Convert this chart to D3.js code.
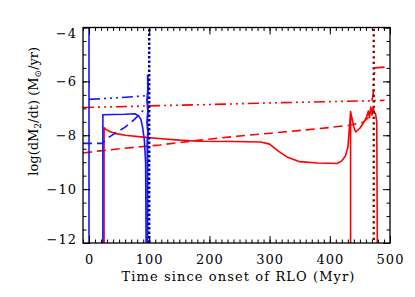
<!DOCTYPE html>
<html>
<head>
<meta charset="utf-8">
<script src="https://cdn.jsdelivr.net/npm/d3@7"></script>
<style>
  body { margin: 0; background: #fff; }
  text { font-family: "DejaVu Serif", serif; }
</style>
</head>
<body>
<div id="chart"></div>
<script>
// tick labels
const xTicks = [0, 100, 200, 300, 400, 500];
const yTicks = [-12, -10, -8, -6, -4];

// series: [time (Myr), log(dM2/dt)]
const blueSolidA = [[0, -12.5], [0, -3.5]];
const blueSolidB = [[23, -12.5], [23, -7.24], [40, -7.23], [60, -7.22], [76, -7.2], [82, -7.27], [86, -7.4], [89, -7.7], [92, -8.2], [94, -9], [95, -12.5]];
const blueSolidC = [[97, -12.5], [97, -8.2], [98, -7.9], [96.5, -7.5], [98, -7.1], [96.5, -6.7], [98, -6.3], [97.5, -5.75]];
const blueDashed = [[-10, -8.3], [22, -8.3], [30, -8.12], [45, -7.9], [60, -7.7], [75, -7.42], [90, -7.08]];
const blueDashDot = [[0, -6.67], [30, -6.63], [60, -6.59], [96, -6.53]];
const blueDotted = [[100, -12.5], [100, -3.5]];

const redSolid = [[25, -12.5], [25, -7.72], [28, -7.78], [35, -7.87], [45, -7.94], [60, -8.0], [90, -8.07], [120, -8.13],
  [150, -8.18], [185, -8.22], [240, -8.23], [285, -8.25], [300, -8.33], [315, -8.6], [330, -8.82], [350, -8.98],
  [380, -9.03], [412, -9.05], [420, -8.95], [426, -8.77], [430, -8.45], [433, -7.6], [434.5, -7.12], [434.5, -12.5],
  [434.5, -7.12], [440, -7.7], [443, -7.88], [450, -7.74], [457, -7.5], [461, -7.33], [464, -7.1], [466, -7.35],
  [468, -6.95], [470, -7.25], [472, -6.98], [474, -7.15], [476, -7.2], [478, -7.5], [479, -12.5]];
const redDashed = [[-10, -8.66], [18, -8.58], [60, -8.48], [118, -8.36], [184, -8.18], [250, -8.03], [322, -7.88],
  [380, -7.76], [433, -7.63], [455, -7.52], [464, -7.35], [470, -7.0]];
const redDashDot = [[-10, -6.97], [100, -6.91], [200, -6.86], [300, -6.8], [400, -6.75], [470, -6.72], [491, -6.7]];
const redDashDotJump = [[470, -6.72], [472, -6.5], [473, -6.0], [475, -5.5], [491, -5.47]];
const maroonDotted = [[473, -12.5], [473, -3.5]];

const margin = { top: 27.5, right: 25, bottom: 54, left: 83 };
const width = 415 - margin.left - margin.right;
const height = 297 - margin.top - margin.bottom;

const x = d3.scaleLinear().domain([-10, 500]).range([0, width]);
const y = d3.scaleLinear().domain([-12, -4]).range([height, 0]);

const svg = d3.select('#chart').append('svg')
  .attr('width', 415)
  .attr('height', 297)
  .append('g')
  .attr('transform', `translate(${margin.left}, ${margin.top})`);

svg.append('clipPath').attr('id', 'clip')
  .append('rect').attr('width', width).attr('height', height);

const line = d3.line()
  .x((d) => x(d[0]))
  .y((d) => y(d[1]));

const plot = svg.append('g').attr('clip-path', 'url(#clip)');

// draw a series
function draw(data, color, dash, w) {
  plot.append('path')
    .datum(data)
    .attr('d', line)
    .attr('fill', 'none')
    .attr('stroke', color)
    .attr('stroke-width', w || 1.6)
    .attr('stroke-dasharray', dash || null)
    .attr('stroke-linejoin', 'round');
}

const dashDot = '11,4,2,4,2,4,2,4';
draw(redDashed, '#ff0000', '9,5');
draw(redDashDot, '#ff0000', dashDot);
draw(redDashDotJump, '#ff0000', dashDot);
draw(redSolid, '#ff0000');
draw(maroonDotted, '#8b0000', '2.2,3.3', 2.4);
draw(blueDashed, '#1414ff', '9,5');
draw(blueDashDot, '#1414ff', dashDot);
draw(blueSolidA, '#1414ff');
draw(blueSolidB, '#1414ff');
draw(blueSolidC, '#1414ff', null, 2);
draw(blueDotted, '#00009a', '2.5,2', 2.4);

// axes, ticks pointing inward on all four sides
const xMinor = d3.range(-10, 501, 10);
const yMinor = d3.range(-12, -3.9, 0.5);

function clean(g) {
  g.select('.domain').remove();
  g.selectAll('line').attr('stroke', '#000').attr('stroke-width', 1);
}

svg.append('g')
  .attr('transform', `translate(0, ${height})`)
  .call(d3.axisBottom(x).tickValues(xMinor).tickSize(-3.5).tickFormat(''))
  .call(clean);
svg.append('g')
  .attr('transform', `translate(0, ${height})`)
  .call(d3.axisBottom(x).tickValues(xTicks).tickSize(-7).tickPadding(12))
  .call(clean)
  .selectAll('text')
  .attr('font-size', 13)
  .attr('letter-spacing', 1)
  .attr('fill', '#000');

svg.append('g')
  .call(d3.axisTop(x).tickValues(xMinor).tickSize(-3.5).tickFormat(''))
  .call(clean);
svg.append('g')
  .call(d3.axisTop(x).tickValues(xTicks).tickSize(-7).tickFormat(''))
  .call(clean);

svg.append('g')
  .call(d3.axisLeft(y).tickValues(yMinor).tickSize(-3.5).tickFormat(''))
  .call(clean);
svg.append('g')
  .call(d3.axisLeft(y).tickValues(yTicks).tickSize(-7).tickPadding(6).tickFormat(d3.format('d')))
  .call(clean)
  .selectAll('text')
  .attr('font-size', 13)
  .attr('letter-spacing', 1)
  .attr('fill', '#000')
  // end labels sit a little inside the frame
  .attr('dy', (d) => d === -4 ? '0.75em' : d === -12 ? '0.05em' : '0.32em');

svg.append('g')
  .attr('transform', `translate(${width}, 0)`)
  .call(d3.axisRight(y).tickValues(yMinor).tickSize(-3.5).tickFormat(''))
  .call(clean);
svg.append('g')
  .attr('transform', `translate(${width}, 0)`)
  .call(d3.axisRight(y).tickValues(yTicks).tickSize(-7).tickFormat(''))
  .call(clean);

svg.append('rect')
  .attr('width', width)
  .attr('height', height)
  .attr('fill', 'none')
  .attr('stroke', '#000')
  .attr('stroke-width', 1.3);

// axis titles
svg.append('text')
  .attr('x', width / 2 + 2)
  .attr('y', height + 38)
  .attr('text-anchor', 'middle')
  .attr('font-size', 13)
  .attr('letter-spacing', 1.1)
  .text('Time since onset of RLO (Myr)');

const yTitle = svg.append('text')
  .attr('transform', `translate(${-45}, ${height / 2 - 24}) rotate(-90)`)
  .attr('text-anchor', 'middle')
  .attr('font-size', 13);
yTitle.append('tspan').text('log(dM');
yTitle.append('tspan').attr('font-size', 9).attr('dy', 3).text('2');
yTitle.append('tspan').attr('dy', -3).text('/dt) (M');
yTitle.append('tspan').attr('font-size', 9).attr('dy', 3).text('⊙');
yTitle.append('tspan').attr('dy', -3).text('/yr)');
</script>
</body>
</html>
